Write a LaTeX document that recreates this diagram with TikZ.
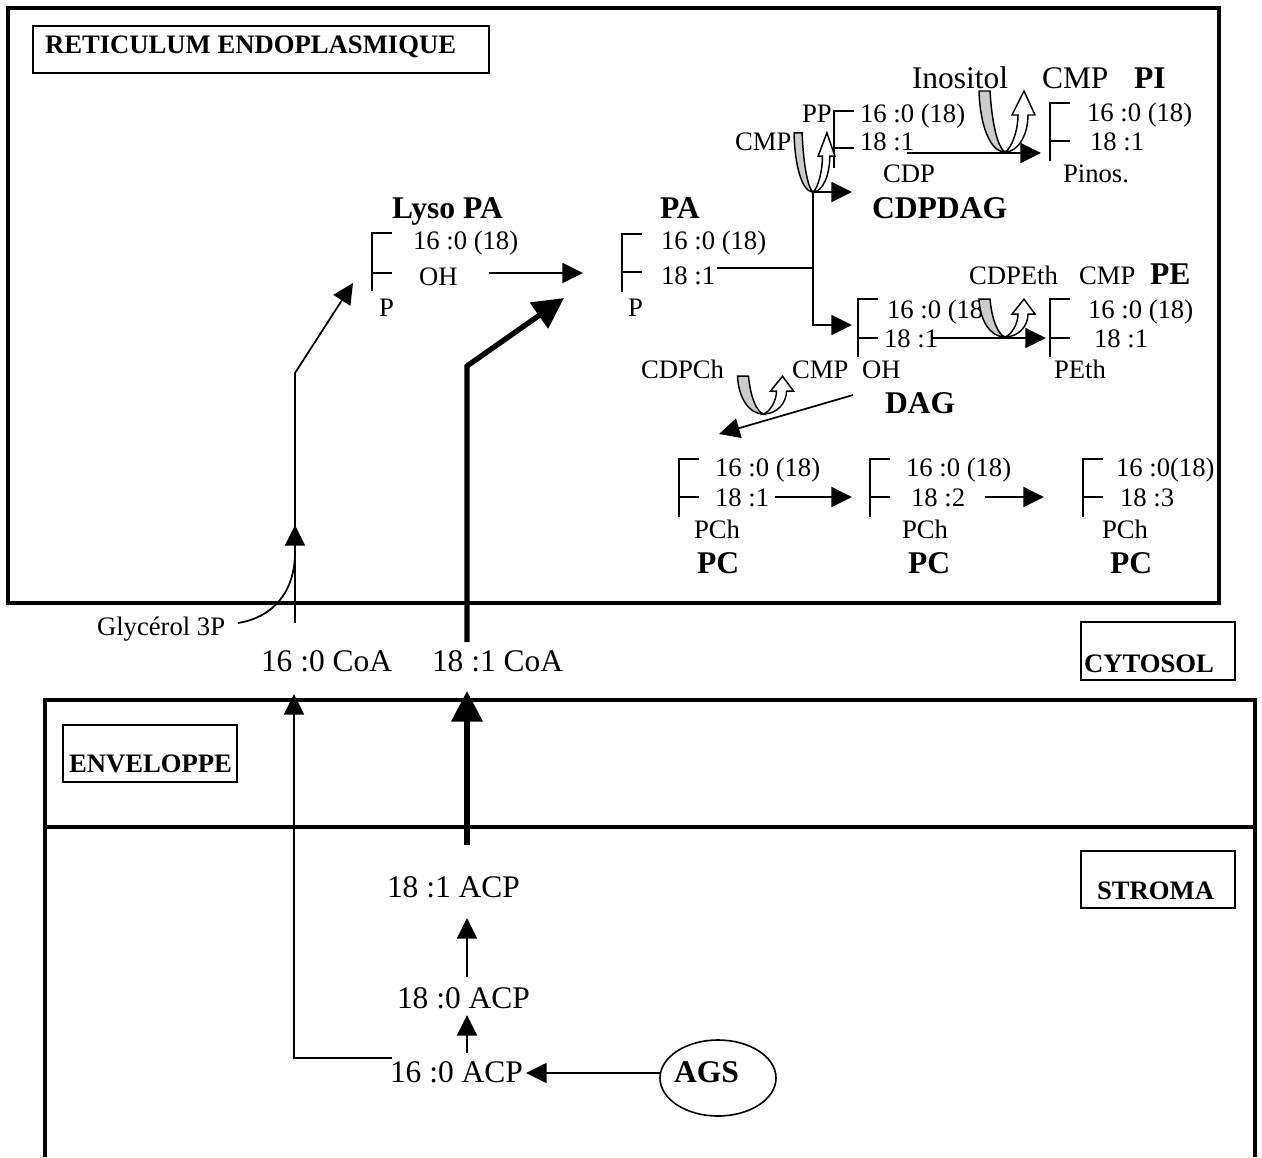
\documentclass[tikz,border=0pt]{standalone}
\usepackage{fontspec}
\setmainfont{Liberation Serif}
\usetikzlibrary{arrows.meta,shapes.geometric}
\tikzset{
  x=0.75pt,y=-0.75pt,
  lab/.style={anchor=base west,inner sep=0pt,outer sep=0pt,font=\fontsize{20}{24}\selectfont},
  big/.style={anchor=base west,inner sep=0pt,outer sep=0pt,font=\fontsize{23.6}{28}\selectfont},
  bbig/.style={anchor=base west,inner sep=0pt,outer sep=0pt,font=\fontsize{23.7}{28}\selectfont\bfseries},
  bsm/.style={anchor=base west,inner sep=0pt,outer sep=0pt,font=\fontsize{20}{24}\selectfont\bfseries},
  frame/.style={draw=black,line width=3pt},
  tag/.style={draw=black,line width=0.9pt},
  brk/.style={draw=black,line width=1.2pt},
  con/.style={draw=black,line width=1.3pt},
  arr/.style={con,-{Triangle[length=15.5pt,width=15pt]}},
  thickarr/.style={draw=black,line width=4pt,-{Triangle[length=23pt,width=23pt]}},
}
\newcommand{\bracket}[4]{% x, top, bottom, mid
  \draw[brk] (#1+20,#2) -- (#1,#2) -- (#1,#3);
  \draw[brk] (#1,#4) -- (#1+20,#4);}
\newcommand{\ucurve}[4]{% tipx tipy sx sy
  \begin{scope}[shift={(#1,#2)},xscale=#3,yscale=#4]
    \draw[fill=black!20,draw=black,line width=1.1pt] (-26,-61) .. controls (-25,-27) and (-15,0) .. (0,0)
      .. controls (-7,-4) and (-13,-27) .. (-15,-61) -- cycle;
    \draw[fill=white,draw=black,line width=1.1pt] (0,0) .. controls (13,0) and (23,-17) .. (23,-37)
      -- (30,-37) -- (19,-61) -- (7,-37) -- (13,-37) .. controls (13,-22) and (7,-4) .. (0,0) -- cycle;
  \end{scope}}
\begin{document}
\begin{tikzpicture}
\useasboundingbox (0,0) rectangle (1262,1157);
% frames
\draw[frame] (8,8) rectangle (1219,603);
\draw[frame,line cap=butt] (45,1157) -- (45,700) -- (1255,700) -- (1255,1157);
\draw[frame] (45,827) -- (1255,827);
\draw[tag] (33,26) rectangle (489,73);
\draw[tag] (1081,622) rectangle (1235,680);
\draw[tag] (63,725) rectangle (237,782);
\draw[tag] (1081,851) rectangle (1235,908);
\node[bsm] (re) at (45,53) {RETICULUM ENDOPLASMIQUE};
\node[bsm] (cyto) at (1084,672) {CYTOSOL};
\node[bsm] (env) at (69,772) {ENVELOPPE};
\node[bsm] (stroma) at (1097,899) {STROMA};
% Lyso PA
\node[bbig] (lyso) at (392,218) {Lyso PA};
\node[lab] (l1) at (413,249) {16 :0 (18)};
\node[lab] (l2) at (419,285) {OH};
\node[lab] (l3) at (379,316) {P};
\bracket{372}{233}{291}{273}
% PA
\node[bbig] (pa) at (660,218) {PA};
\node[lab] (p1) at (661,249) {16 :0 (18)};
\node[lab] (p2) at (661,284) {18 :1};
\node[lab] (p3) at (628,316) {P};
\bracket{622}{234}{292}{272}
% CDPDAG
\node[lab] (pp) at (802,122) {PP};
\node[lab] (c1) at (860,122) {16 :0 (18)};
\node[lab] (c2) at (860,150) {18 :1};
\node[lab] (cmp1) at (735,150) {CMP};
\node[lab] (cdp) at (883,182) {CDP};
\node[bbig] (cdpdag) at (872,218) {CDPDAG};
\bracket{834}{111}{168}{148}
% PI
\node[big] (ino) at (912,88) {Inositol};
\node[big] (cmp2) at (1042,88) {CMP};
\node[bbig] (pi) at (1134,88) {PI};
\node[lab] (i1) at (1087,121) {16 :0 (18)};
\node[lab] (i2) at (1090,150) {18 :1};
\node[lab] (i3) at (1063,182) {Pinos.};
\bracket{1050}{103}{161}{141}
% DAG
\node[lab] (d1) at (887,318) {16 :0 (18};
\node[lab] (d2) at (884,347) {18 :1};
\node[lab] (oh) at (862,378) {OH};
\node[bbig] (dag) at (885,413) {DAG};
\bracket{858}{299}{357}{338}
% PE
\node[lab] (cdpeth) at (969,284) {CDPEth};
\node[lab] (cmp3) at (1079,284) {CMP};
\node[bbig] (pe) at (1150,284) {PE};
\node[lab] (e1) at (1088,318) {16 :0 (18)};
\node[lab] (e2) at (1094,347) {18 :1};
\node[lab] (e3) at (1054,378) {PEth};
\bracket{1050}{299}{357}{338}
% CDPCh
\node[lab] (cdpch) at (641,378) {CDPCh};
\node[lab] (cmp4) at (792,378) {CMP};
% PC
\node[lab] (a1) at (715,476) {16 :0 (18)};
\node[lab] (a2) at (715,506) {18 :1};
\node[lab] (a3) at (694,538) {PCh};
\node[bbig] (a4) at (697,573) {PC};
\bracket{679}{459}{517}{497}
\node[lab] (b1) at (906,476) {16 :0 (18)};
\node[lab] (b2) at (911,506) {18 :2};
\node[lab] (b3) at (902,538) {PCh};
\node[bbig] (b4) at (908,573) {PC};
\bracket{870}{459}{517}{497}
\node[lab] (f1) at (1116,476) {16 :0(18)};
\node[lab] (f2) at (1120,506) {18 :3};
\node[lab] (f3) at (1102,538) {PCh};
\node[bbig] (f4) at (1110,573) {PC};
\bracket{1083}{459}{517}{497}
% lower labels
\node[lab] (gly) at (97,635) {Glycérol 3P};
\node[big] (coa16) at (261,671) {16 :0 CoA};
\node[big] (coa18) at (432,671) {18 :1 CoA};
\node[big] (acp181) at (387,897) {18 :1 ACP};
\node[big] (acp180) at (397,1008) {18 :0 ACP};
\node[big] (acp160) at (390,1082) {16 :0 ACP};
\node[draw=black,line width=1.2pt,ellipse,minimum width=87pt,minimum height=57pt,inner sep=0pt] (ags) at (718,1078) {};
\node[bbig] (agst) at (674,1082) {AGS};
% connector end points
\coordinate (j) at (813,268);
\coordinate (k1) at (813,192);
\coordinate (k2) at (813,325);
\coordinate (cdpin) at (852,192);
\coordinate (dagin) at (852,325);
\coordinate (paout) at (717,268);
\coordinate (oha) at (489,273);
\coordinate (pain) at (583,273);
\coordinate (cdpout) at (907,153);
\coordinate (piin) at (1041,153);
\coordinate (dagout) at (932,338);
\coordinate (pein) at (1046,338);
\coordinate (dagpc) at (853,395);
\coordinate (pcin) at (719,434);
\coordinate (pa1) at (775,497);
\coordinate (pb1) at (852,497);
\coordinate (pa2) at (985,497);
\coordinate (pb2) at (1044,497);
\coordinate (s16) at (295,623);
\coordinate (g1) at (295,525);
\coordinate (g2) at (295,373);
\coordinate (lysoin) at (353,283);
\coordinate (glyb) at (238,623);
\coordinate (glyc) at (295,552);
\coordinate (s18) at (467,642);
\coordinate (t1) at (467,366);
\coordinate (t2) at (564,298);
\coordinate (e18b) at (467,845);
\coordinate (e18t) at (467,691);
\coordinate (e16c) at (294,1058);
\coordinate (e16t) at (294,694);
\coordinate (e16b) at (392,1058);
\coordinate (u1) at (467,977);
\coordinate (u2) at (467,918);
\coordinate (v1) at (467,1053);
\coordinate (v2) at (467,1015);
\coordinate (agsw) at (660,1073);
\coordinate (acpin) at (526,1073);
% connectors
\draw[con] (paout) -- (j);
\draw[arr] (j) -- (k1) -- (cdpin);
\draw[arr] (j) -- (k2) -- (dagin);
\draw[arr] (oha) -- (pain);
\draw[arr] (cdpout) -- (piin);
\draw[arr] (dagout) -- (pein);
\draw[arr] (dagpc) -- (pcin);
\draw[arr] (pa1) -- (pb1);
\draw[arr] (pa2) -- (pb2);
\draw[arr] (s16) -- (g1);
\draw[arr] (glyc) -- (g2) -- (lysoin);
\draw[con] (glyb) .. controls (270,618) and (295,595) .. (glyc);
\draw[thickarr] (s18) -- (t1) -- (t2);
\draw[thickarr] (e18b) -- (e18t);
\draw[arr] (e16b) -- (e16c) -- (e16t);
\draw[arr] (u1) -- (u2);
\draw[arr] (v1) -- (v2);
\draw[arr] (agsw) -- (acpin);
% co-substrate curves
\ucurve{813}{192}{0.73}{0.97}
\ucurve{1005}{152}{1}{1}
\ucurve{1005}{337}{1}{0.62}
\ucurve{763.5}{414}{1}{0.62}
\end{tikzpicture}
\end{document}
